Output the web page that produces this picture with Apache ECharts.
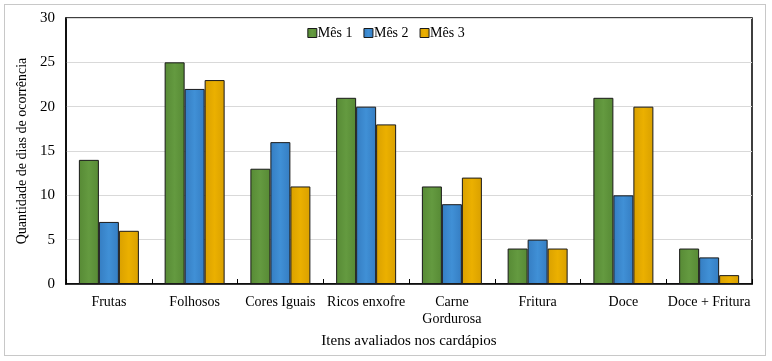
<!DOCTYPE html>
<html>
<head>
<meta charset="utf-8">
<script src="https://cdn.jsdelivr.net/npm/echarts@6/dist/echarts.min.js"></script>
<style>
  html, body { margin: 0; padding: 0; background: #fff; }
  #frame { position: absolute; left: 4px; top: 4px; width: 762px; height: 352px; border: 1px solid #c8c8c8; box-sizing: border-box; }
  #chart { width: 772px; height: 361px; }
</style>
</head>
<body>
<div id="frame"></div>
<div id="chart"></div>
<script>
const categories = ['Frutas', 'Folhosos', 'Cores Iguais', 'Ricos enxofre', 'Carne\nGordurosa', 'Fritura', 'Doce', 'Doce + Fritura'];
const mes1 = [14, 25, 13, 21, 11, 4, 21, 4];
const mes2 = [7, 22, 16, 20, 9, 5, 10, 3];
const mes3 = [6, 23, 11, 18, 12, 4, 20, 1];
const seriesNames = ['Mês 1', 'Mês 2', 'Mês 3'];
const yTicks = { min: 0, max: 30, interval: 5 };

const font = 'Liberation Serif';

function grad(light, dark) {
  return new echarts.graphic.LinearGradient(0, 0, 1, 0, [
    { offset: 0, color: dark },
    { offset: 0.5, color: light },
    { offset: 1, color: dark }
  ]);
}

const fills = [
  grad('#649a40', '#578a35'),
  grad('#4090d6', '#357dc2'),
  grad('#ebb000', '#d9a000')
];

const chart = echarts.init(document.getElementById('chart'));

const makeSeries = (name, data, i) => ({
  name: name,
  type: 'bar',
  data: data,
  barWidth: 20,
  barGap: '0%',
  itemStyle: { color: fills[i], borderColor: '#1a1a1a', borderWidth: 1 }
});

chart.setOption({
  animation: false,
  textStyle: { fontFamily: font },
  legend: {
    top: 21,
    left: 'center',
    itemWidth: 9,
    itemHeight: 9,
    itemGap: 11,
    textStyle: { fontFamily: font, fontSize: 14, color: '#000', padding: [0, 0, 0, -4] },
    data: seriesNames.map((n) => ({ name: n, icon: 'rect', itemStyle: { borderColor: '#1a1a1a', borderWidth: 1 } }))
  },
  grid: { left: 66, right: 20, top: 18, bottom: 77, show: true, borderColor: '#000', borderWidth: 1.5 },
  xAxis: {
    type: 'category',
    data: categories,
    name: 'Itens avaliados nos cardápios',
    nameLocation: 'middle',
    nameGap: 50,
    nameTextStyle: { fontFamily: font, fontSize: 15, color: '#000' },
    axisLine: { lineStyle: { color: '#000', width: 1.5 } },
    axisTick: { show: true, inside: true, length: 5, lineStyle: { color: '#000' } },
    axisLabel: { fontFamily: font, fontSize: 14, color: '#000', margin: 10, interval: 0, lineHeight: 17 }
  },
  yAxis: {
    type: 'value',
    min: yTicks.min,
    max: yTicks.max,
    interval: yTicks.interval,
    name: 'Quantidade de dias de ocorrência',
    nameLocation: 'middle',
    nameGap: 32,
    nameTextStyle: { fontFamily: font, fontSize: 14, color: '#000' },
    axisLine: { show: true, lineStyle: { color: '#000', width: 1.5 } },
    axisTick: { show: false },
    axisLabel: { fontFamily: font, fontSize: 15, color: '#000', margin: 11 },
    splitLine: { lineStyle: { color: '#d9d9d9', width: 1 } }
  },
  series: [
    makeSeries(seriesNames[0], mes1, 0),
    makeSeries(seriesNames[1], mes2, 1),
    makeSeries(seriesNames[2], mes3, 2)
  ]
});
</script>
</body>
</html>
